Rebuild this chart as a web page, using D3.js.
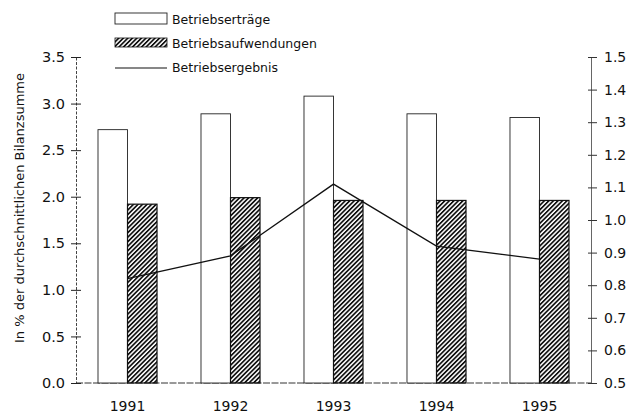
<!DOCTYPE html>
<html>
<head>
<meta charset="utf-8">
<script src="https://cdn.jsdelivr.net/npm/d3@7"></script>
<style>
body { margin: 0; background: #fff; }
text { font-family: "DejaVu Sans", sans-serif; fill: #111; }
</style>
</head>
<body>
<div id="chart"></div>
<script>
// data
var years = ["1991", "1992", "1993", "1994", "1995"];
var ertraege = [2.72, 2.89, 3.08, 2.89, 2.85];      // left axis
var aufwendungen = [1.92, 1.99, 1.96, 1.96, 1.96];  // left axis
var ergebnis = [0.82, 0.89, 1.11, 0.92, 0.88];      // right axis
var leftTicks = [0, 0.5, 1, 1.5, 2, 2.5, 3, 3.5];
var rightTicks = [0.5, 0.6, 0.7, 0.8, 0.9, 1.0, 1.1, 1.2, 1.3, 1.4, 1.5];

var W = 635, H = 414;
var margin = {top: 57, right: 44, bottom: 31, left: 76},
width = W - margin.left - margin.right,
height = H - margin.top - margin.bottom;

var svg = d3.select("#chart")
.append("svg")
.attr("width", W)
.attr("height", H);

// hatch pattern
var defs = svg.append("defs");
defs.append("pattern")
.attr("id", "hatch")
.attr("patternUnits", "userSpaceOnUse")
.attr("width", 3.2)
.attr("height", 3.2)
.attr("patternTransform", "rotate(45)")
.append("rect")
.attr("x", 0).attr("y", 0)
.attr("width", 1.7).attr("height", 3.2)
.attr("fill", "#111");

var g = svg.append("g")
.attr("transform", "translate(" + margin.left + "," + margin.top + ")");

// scales
var x0 = d3.scaleBand()
.domain(years)
.range([0, width])
.paddingInner(0.427)
.paddingOuter(0.2136);

var x1 = d3.scaleBand()
.domain(["ertr", "aufw"])
.range([0, x0.bandwidth()]);

var y = d3.scaleLinear().domain([0, 3.5]).range([height, 0]);
var y2 = d3.scaleLinear().domain([0.5, 1.5]).range([height, 0]);

// baseline
g.append("line")
.attr("x1", 0).attr("x2", width)
.attr("y1", y(0)).attr("y2", y(0))
.attr("stroke", "#333")
.attr("stroke-width", 1)
.attr("stroke-dasharray", "7,1.5");

// bars: Betriebserträge
g.append("g")
.selectAll("rect")
.data(years)
.enter()
.append("rect")
.attr("x", function(d) { return x0(d) + x1("ertr"); })
.attr("y", function(d, i) { return y(ertraege[i]); })
.attr("width", x1.bandwidth())
.attr("height", function(d, i) { return y(0) - y(ertraege[i]); })
.attr("fill", "white")
.attr("stroke", "#222")
.attr("stroke-width", 0.9);

// bars: Betriebsaufwendungen
g.append("g")
.selectAll("rect")
.data(years)
.enter()
.append("rect")
.attr("x", function(d) { return x0(d) + x1("aufw"); })
.attr("y", function(d, i) { return y(aufwendungen[i]); })
.attr("width", x1.bandwidth())
.attr("height", function(d, i) { return y(0) - y(aufwendungen[i]); })
.attr("fill", "url(#hatch)")
.attr("stroke", "#111")
.attr("stroke-width", 1.2);

// line: Betriebsergebnis
g.append("path")
.datum(ergebnis)
.attr("fill", "none")
.attr("stroke", "#111")
.attr("stroke-width", 1.3)
.attr("d", d3.line()
.x(function(d, i) { return x0(years[i]) + x0.bandwidth() / 2; })
.y(function(d) { return y2(d); })
);

// left axis
var yAxis = g.append("g")
.call(d3.axisLeft(y).tickValues(leftTicks).tickSize(5).tickPadding(6).tickFormat(d3.format(".1f")));
yAxis.select(".domain").attr("stroke", "#444").attr("stroke-dasharray", "3,1.5");
yAxis.selectAll(".tick line").attr("x1", 5).attr("stroke", "#222");
yAxis.selectAll("text").style("font-size", "14.5px");

// right axis
var y2Axis = g.append("g")
.attr("transform", "translate(" + width + ",0)")
.call(d3.axisRight(y2).tickValues(rightTicks).tickSize(6).tickPadding(7).tickFormat(d3.format(".1f")));
y2Axis.select(".domain").attr("stroke", "#666");
y2Axis.selectAll(".tick line").attr("x1", -3).attr("stroke", "#333");
y2Axis.selectAll("text").style("font-size", "14px");

// x axis labels
var xAxis = g.append("g")
.attr("transform", "translate(0," + height + ")")
.call(d3.axisBottom(x0).tickSize(0).tickPadding(18));
xAxis.select(".domain").remove();
xAxis.selectAll("text").style("font-size", "14px");

// y label
svg.append("text")
.attr("transform", "translate(24," + 208 + ") rotate(-90)")
.attr("text-anchor", "middle")
.style("font-size", "13px")
.text("In % der durchschnittlichen Bilanzsumme");

// legend
var lg = svg.append("g").attr("transform", "translate(115,0)");
lg.append("rect")
.attr("x", 0).attr("y", 13).attr("width", 52).attr("height", 11)
.attr("fill", "white").attr("stroke", "#222").attr("stroke-width", 0.9);
lg.append("text").attr("x", 57).attr("y", 24).style("font-size", "12.5px").text("Betriebserträge");

lg.append("rect")
.attr("x", 0).attr("y", 38).attr("width", 52).attr("height", 9)
.attr("fill", "url(#hatch)").attr("stroke", "#111").attr("stroke-width", 0.8);
lg.append("text").attr("x", 57).attr("y", 48).style("font-size", "12.5px").text("Betriebsaufwendungen");

lg.append("line")
.attr("x1", 0).attr("x2", 52).attr("y1", 68).attr("y2", 68)
.attr("stroke", "#111").attr("stroke-width", 1.1);
lg.append("text").attr("x", 57).attr("y", 72).style("font-size", "12.5px").text("Betriebsergebnis");
</script>
</body>
</html>
